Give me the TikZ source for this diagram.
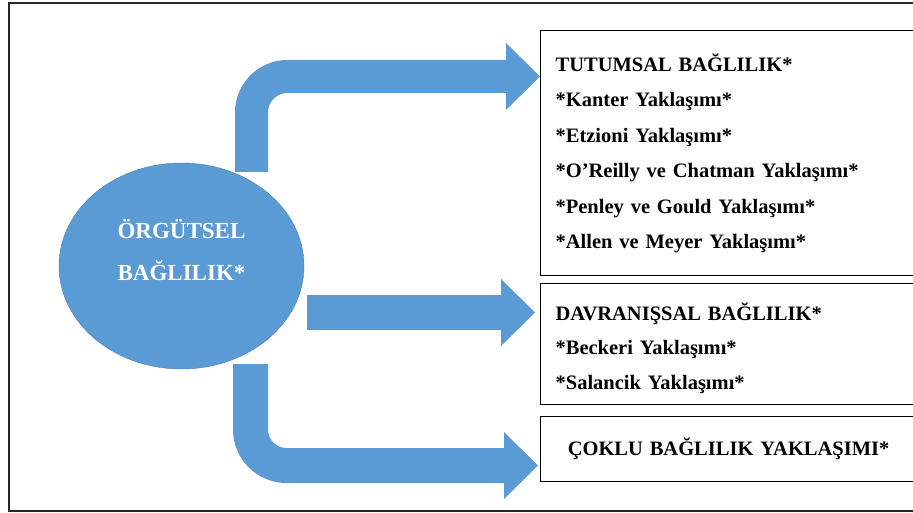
\documentclass[tikz,border=0pt]{standalone}
\usepackage{fontspec}
\setmainfont{Liberation Serif}
\usetikzlibrary{arrows.meta,calc,shapes.geometric}
\definecolor{officeblue}{HTML}{5B9BD5}
\definecolor{officeedge}{HTML}{4A80B8}
\tikzstyle{frame} =
  [ draw=black!85
  , line width=1.3pt
  ]
\tikzstyle{core} =
  [ ellipse
  , fill=officeblue
  , draw=officeedge
  , minimum width=245pt
  , minimum height=206pt
  ]
\tikzstyle{core_text} =
  [ text=white
  , font=\bfseries\fontsize{23}{42}\selectfont
  , align=center
  ]
\tikzstyle{list_box} =
  [ rectangle
  , draw
  , line width=1.2pt
  , anchor=north west
  , minimum width=376pt
  , inner xsep=15pt
  , text width=346pt
  , align=left
  , font=\bfseries\fontsize{20.5}{35.5}\selectfont
  ]
\tikzstyle{block_arrow} =
  [ officeblue
  , line width=34pt
  , rounded corners=36pt
  , -{Triangle[width=67pt,length=34pt,line width=0pt]}
  ]
\def\Tutumsal{TUTUMSAL BAĞLILIK*}
\def\Davranissal{DAVRANIŞSAL BAĞLILIK*}
\def\Coklu{ÇOKLU BAĞLILIK YAKLAŞIMI*}

\begin{document}
\begin{tikzpicture}[x=1pt,y=-1pt]
    \useasboundingbox (0,0) rectangle (913,513);
    \clip (0,0) rectangle (913,513);
    \draw[frame] (9,3) rectangle (925,511);

    \node[core] (org) at (181.5,266) {};
    \node[core_text] (org_text) at (181.5,250) {ÖRGÜTSEL\\BAĞLILIK*};

    \node[list_box,minimum height=245pt] (tut) at (540,30)
      {\Tutumsal\\{}*Kanter Yaklaşımı*\\{}*Etzioni Yaklaşımı*\\{}*O’Reilly ve Chatman Yaklaşımı*\\{}*Penley ve Gould Yaklaşımı*\\{}*Allen ve Meyer Yaklaşımı*};
    \node[list_box,minimum height=121pt,font=\bfseries\fontsize{20.5}{34.5}\selectfont] (dav) at (540,283)
      {\rule{0pt}{26pt}\Davranissal\\{}*Beckeri Yaklaşımı*\\{}*Salancik Yaklaşımı*};
    \node[list_box,minimum height=65pt,align=center] (cok) at (540,416) {\Coklu};

    \draw[block_arrow,line width=33pt] ($(org.center)+(70,-94)$) |- ($(tut.north west)+(0,46.5)$);
    \draw[block_arrow,line width=35pt] ($(org.center)+(125.5,46.5)$) -- ($(dav.north west)+(-5,29.5)$);
    \draw[block_arrow,line width=35pt] ($(org.center)+(69,98)$) |- ($(cok.north west)+(-2,49.5)$);
  \end{tikzpicture}
\end{document}
